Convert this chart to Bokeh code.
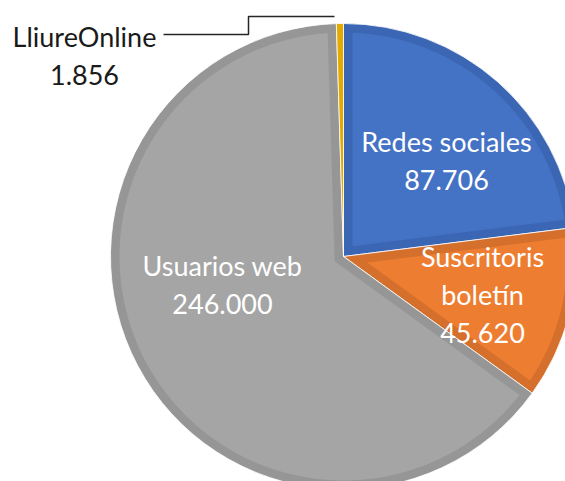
import numpy as np
from bokeh.plotting import figure
from bokeh.models import Range1d, ColumnDataSource
from bokeh.embed import file_html
from bokeh.resources import INLINE
from bokeh.core.properties import value

# ---- data ----
categories = ["Redes sociales", "Suscritoris\nboletín", "Usuarios web", "LliureOnline"]
values = [87706, 45620, 246000, 1856]

# ---- style ----
fill_colors = ["#4472C4", "#ED7D31", "#A5A5A5", "#FFC000"]
edge_colors = ["#3B66B3", "#D4702C", "#969696", "#E3AB00"]
label_colors = ["white", "white", "white", "#1a1a1a"]
label_pos = [(446, -160), (482, -294), (222, -284), (84, -55)]

cx, cy, R, band = 343.0, -256.0, 233.0, 9.0

vals = np.array(values, dtype=float)
frac = vals / vals.sum()
cum = np.concatenate([[0.0], np.cumsum(frac)])
starts = np.pi / 2 - 2 * np.pi * cum[:-1]
ends = np.pi / 2 - 2 * np.pi * cum[1:]

p = figure(width=565, height=481, output_backend="svg", toolbar_location=None,
           x_range=Range1d(0, 565), y_range=Range1d(-481, 0),
           min_border=0, outline_line_color=None)
p.axis.visible = False
p.grid.visible = False
p.background_fill_color = "white"
p.border_fill_color = "white"

src = ColumnDataSource(dict(start=starts, end=ends, fill=edge_colors))
p.wedge(x=cx, y=cy, radius=R, start_angle="start", end_angle="end",
        direction="clock", fill_color="fill", line_color="white", line_width=0.8,
        source=src)

# inner (lighter) region of each slice
xs, ys, fc = [], [], []
r = R - band
delta = np.arcsin(band / r)
for s, e, c in zip(starts, ends, fill_colors):
    span = s - e
    if span <= 2 * delta + 1e-3:
        continue
    th = np.linspace(s - delta, e + delta, 200)
    px = list(cx + r * np.cos(th))
    py = list(cy + r * np.sin(th))
    mid = (s + e) / 2
    dist = band / np.sin(span / 2)
    px.append(cx + dist * np.cos(mid))
    py.append(cy + dist * np.sin(mid))
    xs.append(px)
    ys.append(py)
    fc.append(c)
p.patches(xs=xs, ys=ys, fill_color=fc, line_color=None)

# labels
def fmt(v):
    return f"{v:,}".replace(",", ".")

texts = [f"{c}\n{fmt(v)}" for c, v in zip(categories, values)]
lsrc = ColumnDataSource(dict(x=[q[0] for q in label_pos], y=[q[1] for q in label_pos],
                             t=texts, col=label_colors))
p.text(x="x", y="y", text="t", text_color="col", source=lsrc,
       text_font=value("Lato"), text_font_size="27px", text_align="center",
       text_baseline="middle", text_line_height=1.14)

# leader line for LliureOnline
p.line(x=[163, 248, 248, 334], y=[-34, -34, -16, -16], line_color="#262626", line_width=1.5)

open("out.html", "w").write(file_html(p, INLINE))
